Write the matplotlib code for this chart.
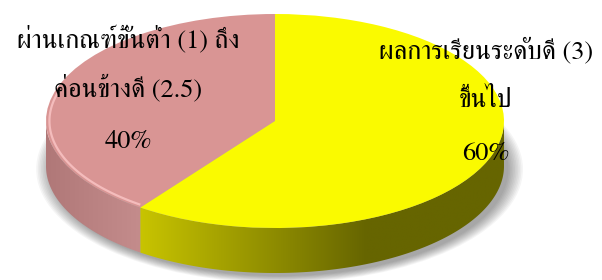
import numpy as np
import matplotlib
matplotlib.use('Agg')
import matplotlib.pyplot as plt
from matplotlib.patches import Polygon, Ellipse
from matplotlib.colors import to_rgb

# data
values = [40, 60]
label_lines = [['ผ่านเกณฑ์ขั้นต่ำ (1) ถึง', 'ค่อนข้างดี (2.5)'],
               ['ผลการเรียนระดับดี (3)', 'ขึ้นไป']]
top_colors = ['#d99594', '#fafa00']
side_colors = [('#b07878', '#c48c8c'), ('#c8c400', '#666500')]

W, H = 602, 280
cx, cy, rx, ry = 275, 121, 229, 107   # pie ellipse in pixels
depth = 45 / ry

fig = plt.figure(figsize=(W / 100, H / 100), dpi=100)
ax = fig.add_axes([0, 0, 1, 1])

wedges, _ = ax.pie(values, colors=top_colors, startangle=90, counterclock=True,
                   radius=1, wedgeprops=dict(linewidth=0, zorder=5))
ax.set_aspect('auto')
ax.set_xlim(-cx / rx, (W - cx) / rx)
ax.set_ylim(-(H - cy) / ry, cy / ry)
ax.axis('off')

# soft shadow under the bottom of the pie
for i in range(10):
    s = 1 + 0.007 * i
    ax.add_patch(Ellipse((0.02, -depth - 0.03), 2 * s, 2 * s, facecolor='#000000',
                         alpha=0.04, edgecolor='none', zorder=1))


def visible(t1, t2):
    # part of the wedge arc that faces the viewer (180..360 deg)
    for off in (0, -360, 360):
        a, b = max(t1 + off, 180), min(t2 + off, 360)
        if a < b:
            return a, b
    return None


for w, (c0, c1) in zip(wedges, side_colors):
    rng = visible(w.theta1, w.theta2)
    if rng is None:
        continue
    t = np.radians(np.linspace(rng[0], rng[1], 200))
    xt, yt = np.cos(t), np.sin(t)
    pts = np.column_stack([np.r_[xt, xt[::-1]], np.r_[yt, yt[::-1] - depth]])
    poly = Polygon(pts, closed=True, facecolor='none', edgecolor='none',
                   transform=ax.transData)
    ax.add_patch(poly)
    x0, x1 = xt.min(), xt.max()
    xx = np.linspace(x0, x1, 300)
    frac = np.clip((xx - x0) / max(min(x1, 0.4) - x0, 1e-6), 0, 1)
    ca, cb = np.array(to_rgb(c0)), np.array(to_rgb(c1))
    img = ca[None, :] * (1 - frac[:, None]) + cb[None, :] * frac[:, None]
    im = ax.imshow(img[None, :, :], extent=(x0, x1, yt.min() - depth, 0.05),
                   aspect='auto', zorder=3, interpolation='bilinear')
    im.set_clip_path(poly)

# light bevel on the pink front edge
t = np.radians(np.linspace(165, wedges[0].theta2 - 1, 100))
ax.plot(0.985 * np.cos(t), 0.975 * np.sin(t), color='#f4bcbc', lw=1.6, zorder=6)

font = dict(family=['FreeSerif'], fontsize=19, color='black', ha='center',
            va='baseline')
lx = [128, 486]
ly = [[48, 96, 148], [58, 107, 160]]
for i, v in enumerate(values):
    for j, line in enumerate(label_lines[i]):
        fig.text(lx[i] / W, 1 - ly[i][j] / H, line, **font)
    fig.text(lx[i] / W, 1 - ly[i][2] / H, f'{v}%', **font)

fig.savefig('out.png', dpi=100)
